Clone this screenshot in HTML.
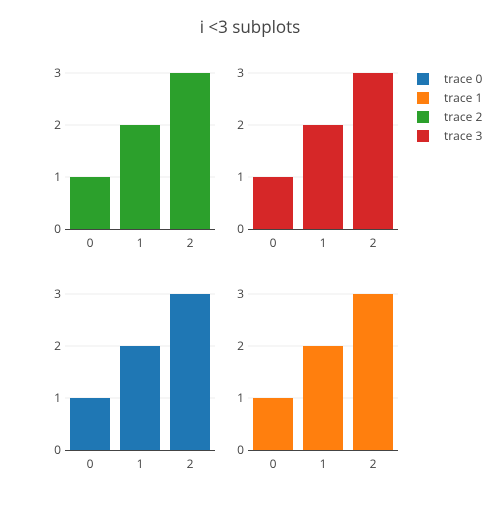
<!DOCTYPE html>
<html><head><meta charset="utf-8"><style>body{margin:0;background:#fff}svg{font-family:"Open Sans","Liberation Sans",sans-serif}</style></head>
<body>
<svg id="c" width="500" height="500" xmlns="http://www.w3.org/2000/svg">
<rect width="500" height="500" fill="#fff"/>
<text x="250" y="33" text-anchor="middle" font-size="17" fill="#444">i &lt;3 subplots</text>
</svg>
<script>
const categories=[0,1,2];
const trace0=[1,2,3];
const trace1=[1,2,3];
const trace2=[1,2,3];
const trace3=[1,2,3];
const yTicks=[0,1,2,3];
const traceNames=['trace 0','trace 1','trace 2','trace 3'];
const colors=['#1f77b4','#ff7f0e','#2ca02c','#d62728'];
const svg=document.getElementById('c');
const NS='http://www.w3.org/2000/svg';
function mk(t,a,p){const e=document.createElementNS(NS,t);for(const k in a)e.setAttribute(k,a[k]);(p||svg).appendChild(e);return e;}
const panels=[
 {data:trace2,color:colors[2],x0:65,x1:215,y0:229,name:'top-left'},
 {data:trace3,color:colors[3],x0:248,x1:398,y0:229,name:'top-right'},
 {data:trace0,color:colors[0],x0:65,x1:215,y0:450,name:'bottom-left'},
 {data:trace1,color:colors[1],x0:248,x1:398,y0:450,name:'bottom-right'}];
panels.forEach(p=>{
 const g=mk('g',{});
 
 
 const xs=v=>p.x0+(v+0.5)*(p.x1-p.x0)/3;
 const ys=v=>p.y0-v*52;
 yTicks.forEach(t=>{
  if(t>0){const l=mk('line',{x1:p.x0,x2:p.x1,y1:ys(t),y2:ys(t),stroke:'#eee','stroke-width':1},g);
  }
  const tx=mk('text',{x:p.x0-4,y:ys(t)+4,'text-anchor':'end','font-size':12,fill:'#444'},g);
  tx.textContent=t;
  
 });
 categories.forEach((c,i)=>{
  const w=40;
  const r=mk('rect',{x:xs(c)-w/2,y:ys(p.data[i]),width:w,height:ys(0)-ys(p.data[i]),fill:p.color},g);
  
  const tx=mk('text',{x:xs(c),y:p.y0+18,'text-anchor':'middle','font-size':12,fill:'#444'},g);
  tx.textContent=c;
  
 });
 const ax=mk('line',{x1:p.x0,x2:p.x1,y1:p.y0+0.5,y2:p.y0+0.5,stroke:'#444','stroke-width':1},g);
 
});
traceNames.forEach((n,i)=>{
 const g=mk('g',{});
 
 const y=79+i*19;
 mk('rect',{x:417,y:y-6,width:12,height:12,fill:colors[i]},g);
 const t=mk('text',{x:444,y:y+4,'font-size':12,fill:'#444'},g);
 t.textContent=n;
});
</script>
</body></html>
